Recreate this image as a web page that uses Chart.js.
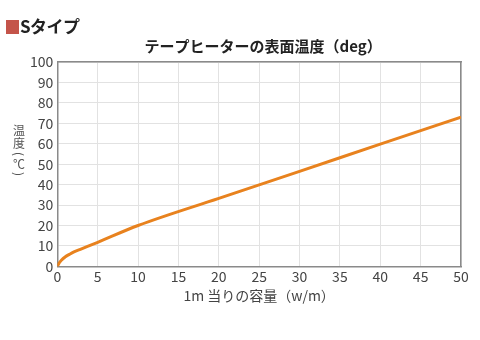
<!DOCTYPE html>
<html>
<head>
<meta charset="utf-8">
<script src="https://cdn.jsdelivr.net/npm/chart.js@4/dist/chart.umd.min.js"></script>
<style>
  html, body { margin: 0; padding: 0; background: #fff; }
  #wrap { position: relative; width: 480px; height: 340px; }
  #head { position: absolute; left: 6px; top: 13px; font: bold 17px "Noto Sans CJK JP", sans-serif; color: #222; letter-spacing: -0.5px; }
  #head span { display: inline-block; width: 13px; height: 14px; background: #c4544a; vertical-align: -1px; margin-right: 1px; }
  canvas { position: absolute; left: 0; top: 0; }
</style>
</head>
<body>
<div id="wrap">
  <canvas id="myChart" width="480" height="340"></canvas>
  <div id="head"><span></span>Sタイプ</div>
</div>
<script>
const wattage = [0, 0.25, 0.5, 1, 1.5, 2, 3, 5, 10, 20, 30, 40, 50];
const surfaceTemp = [0, 1.8, 3.0, 4.7, 5.9, 7.0, 8.6, 11.8, 20, 33.3, 46.5, 59.8, 73];
const xTicks = [0, 5, 10, 15, 20, 25, 30, 35, 40, 45, 50];
const yTicks = [0, 10, 20, 30, 40, 50, 60, 70, 80, 90, 100];
const chartTitle = 'テープヒーターの表面温度（deg）';
const yLabel = ['温', '度', '(', '℃', ')'];

const FONT = '"Noto Sans CJK JP", "Noto Sans", sans-serif';

// title centred over plot, y label stacked upright (brackets turned)
const textPlugin = {
  id: 'texts',
  afterDraw(chart) {
    const ctx = chart.ctx;
    const area = chart.chartArea;
    ctx.save();
    ctx.textAlign = 'center';
    ctx.textBaseline = 'middle';
    ctx.fillStyle = '#222';
    ctx.font = 'bold 15px ' + FONT;
    ctx.fillText(chartTitle, (area.left + area.right) / 2 + 4, 46);
    ctx.fillStyle = '#555';
    ctx.font = '12px ' + FONT;
    const ys = [130, 143, 154, 164, 174];
    yLabel.forEach((c, i) => {
      if (c === '(' || c === ')') {
        ctx.save();
        ctx.translate(19, ys[i]);
        ctx.rotate(Math.PI / 2);
        ctx.fillText(c, 0, 0);
        ctx.restore();
      } else {
        ctx.fillText(c, 19, ys[i]);
      }
    });
    ctx.restore();
  }
};

const points = wattage.map((w, i) => ({ x: w, y: surfaceTemp[i] }));

new Chart(document.getElementById('myChart').getContext('2d'), {
  type: 'line',
  data: {
    datasets: [{
      data: points,
      borderColor: '#e8821e',
      borderWidth: 3,
      pointRadius: 0,
      cubicInterpolationMode: 'monotone'
    }]
  },
  options: {
    responsive: false,
    animation: false,
    layout: { padding: { left: 26, right: 19, top: 62, bottom: 32 } },
    plugins: {
      legend: { display: false },
      tooltip: { enabled: false },
      title: { display: false }
    },
    scales: {
      x: {
        type: 'linear',
        min: 0,
        max: 50,
        afterBuildTicks: (axis) => { axis.ticks = xTicks.map(v => ({ value: v })); },
        ticks: { color: '#444', font: { family: FONT, size: 14 }, padding: 2, maxRotation: 0 },
        grid: { color: '#e2e2e2', drawTicks: false },
        border: { color: '#8a8a8a', width: 1.5 },
        title: {
          display: true,
          text: '1m 当りの容量（w/m）',
          color: '#444',
          font: { family: FONT, size: 14 },
          padding: { top: 0 }
        }
      },
      y: {
        min: 0,
        max: 100,
        afterBuildTicks: (axis) => { axis.ticks = yTicks.map(v => ({ value: v })); },
        ticks: { color: '#444', font: { family: FONT, size: 14 }, padding: 4 },
        grid: { color: '#e2e2e2', drawTicks: false },
        border: { color: '#8a8a8a', width: 1.5 }
      },
      x2: {
        type: 'linear', position: 'top', min: 0, max: 50,
        display: true, ticks: { display: false },
        grid: { display: false, drawTicks: false },
        border: { color: '#8a8a8a', width: 1.5 }
      },
      y2: {
        position: 'right', min: 0, max: 100,
        display: true, ticks: { display: false },
        grid: { display: false, drawTicks: false },
        border: { color: '#8a8a8a', width: 1.5 }
      }
    }
  },
  plugins: [textPlugin]
});
</script>
</body>
</html>
